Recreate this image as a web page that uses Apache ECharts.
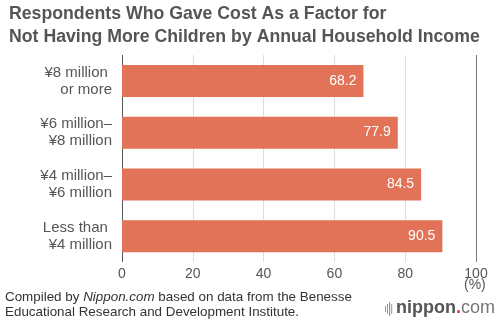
<!DOCTYPE html>
<html>
<head>
<meta charset="utf-8">
<script src="https://cdn.jsdelivr.net/npm/echarts@6/dist/echarts.min.js"></script>
<style>
html, body { margin: 0; padding: 0; background: #fff; }
#main { width: 500px; height: 323px; }
</style>
</head>
<body>
<div id="main"></div>
<script>
var categories = ['Less than \n¥4 million', '¥4 million–\n¥6 million', '¥6 million–\n¥8 million', '¥8 million \nor more'];
var values = [90.5, 84.5, 77.9, 68.2];
var xTicks = [0, 20, 40, 60, 80, 100];

var chart = echarts.init(document.getElementById('main'));

var option = {
    backgroundColor: '#fff',
    animation: false,
    textStyle: { fontFamily: 'Liberation Sans, Arial, sans-serif' },
    title: {
        text: 'Respondents Who Gave Cost As a Factor for\nNot Having More Children by Annual Household Income',
        left: 4,
        top: -2,
        textStyle: { fontSize: 17.7, fontWeight: 'bold', color: '#555', lineHeight: 23 }
    },
    grid: { left: 122, right: 24, top: 55, bottom: 61, containLabel: false },
    xAxis: {
        type: 'value',
        min: 0,
        max: 100,
        interval: 20,
        axisLine: { show: false },
        axisTick: { show: false },
        splitLine: {
            show: true,
            lineStyle: { color: ['#555', '#ddd', '#ddd', '#ddd', '#ddd', '#777'], width: 1 }
        },
        axisLabel: {
            color: '#555', fontSize: 14, margin: 5,
            formatter: function (v) { return xTicks.indexOf(v) >= 0 ? String(v) : ''; }
        }
    },
    yAxis: {
        type: 'category',
        data: categories,
        axisLine: { show: false },
        axisTick: { show: false },
        axisLabel: { color: '#555', fontSize: 15, lineHeight: 17, margin: 10, align: 'right' }
    },
    series: [
        {
            type: 'bar',
            data: values,
            barWidth: 32,
            itemStyle: { color: '#e27258' },
            label: {
                show: true,
                position: 'insideRight',
                color: '#fff',
                fontSize: 14,
                distance: 7,
                formatter: function (p) { return p.value.toFixed(1); }
            }
        }
    ],
    graphic: [
        { type: 'text', left: 464, top: 278, style: { text: '(%)', fill: '#555', fontSize: 14, fontFamily: 'Liberation Sans, Arial, sans-serif' } },
        { type: 'text', left: 5, top: 290, style: { text: '{n|Compiled by }{i|Nippon.com}{n| based on data from the Benesse}\n{n|Educational Research and Development Institute.}', fill: '#333', fontSize: 13.4, lineHeight: 15, fontFamily: 'Liberation Sans, Arial, sans-serif',
            rich: { n: { fontSize: 13.4, fill: '#333' }, i: { fontSize: 13.4, fontStyle: 'italic', fill: '#333' } } } },
        { type: 'rect', shape: { x: 385, y: 306, width: 1, height: 6 }, style: { fill: '#999' } },
        { type: 'rect', shape: { x: 387, y: 304, width: 1, height: 10 }, style: { fill: '#999' } },
        { type: 'rect', shape: { x: 389, y: 302, width: 1.2, height: 14 }, style: { fill: '#999' } },
        { type: 'rect', shape: { x: 391.2, y: 304, width: 1, height: 10 }, style: { fill: '#999' } },
        { type: 'text', left: 396, top: 299, style: { text: '{b|nippon}{r|.}{c|com}', fontFamily: 'Liberation Sans, Arial, sans-serif',
            rich: { b: { fontSize: 18, fontWeight: 'bold', fill: '#555' }, r: { fontSize: 18, fontWeight: 'bold', fill: '#e03030' }, c: { fontSize: 18, fill: '#777' } } } }
    ]
};

chart.setOption(option);
</script>
</body>
</html>
